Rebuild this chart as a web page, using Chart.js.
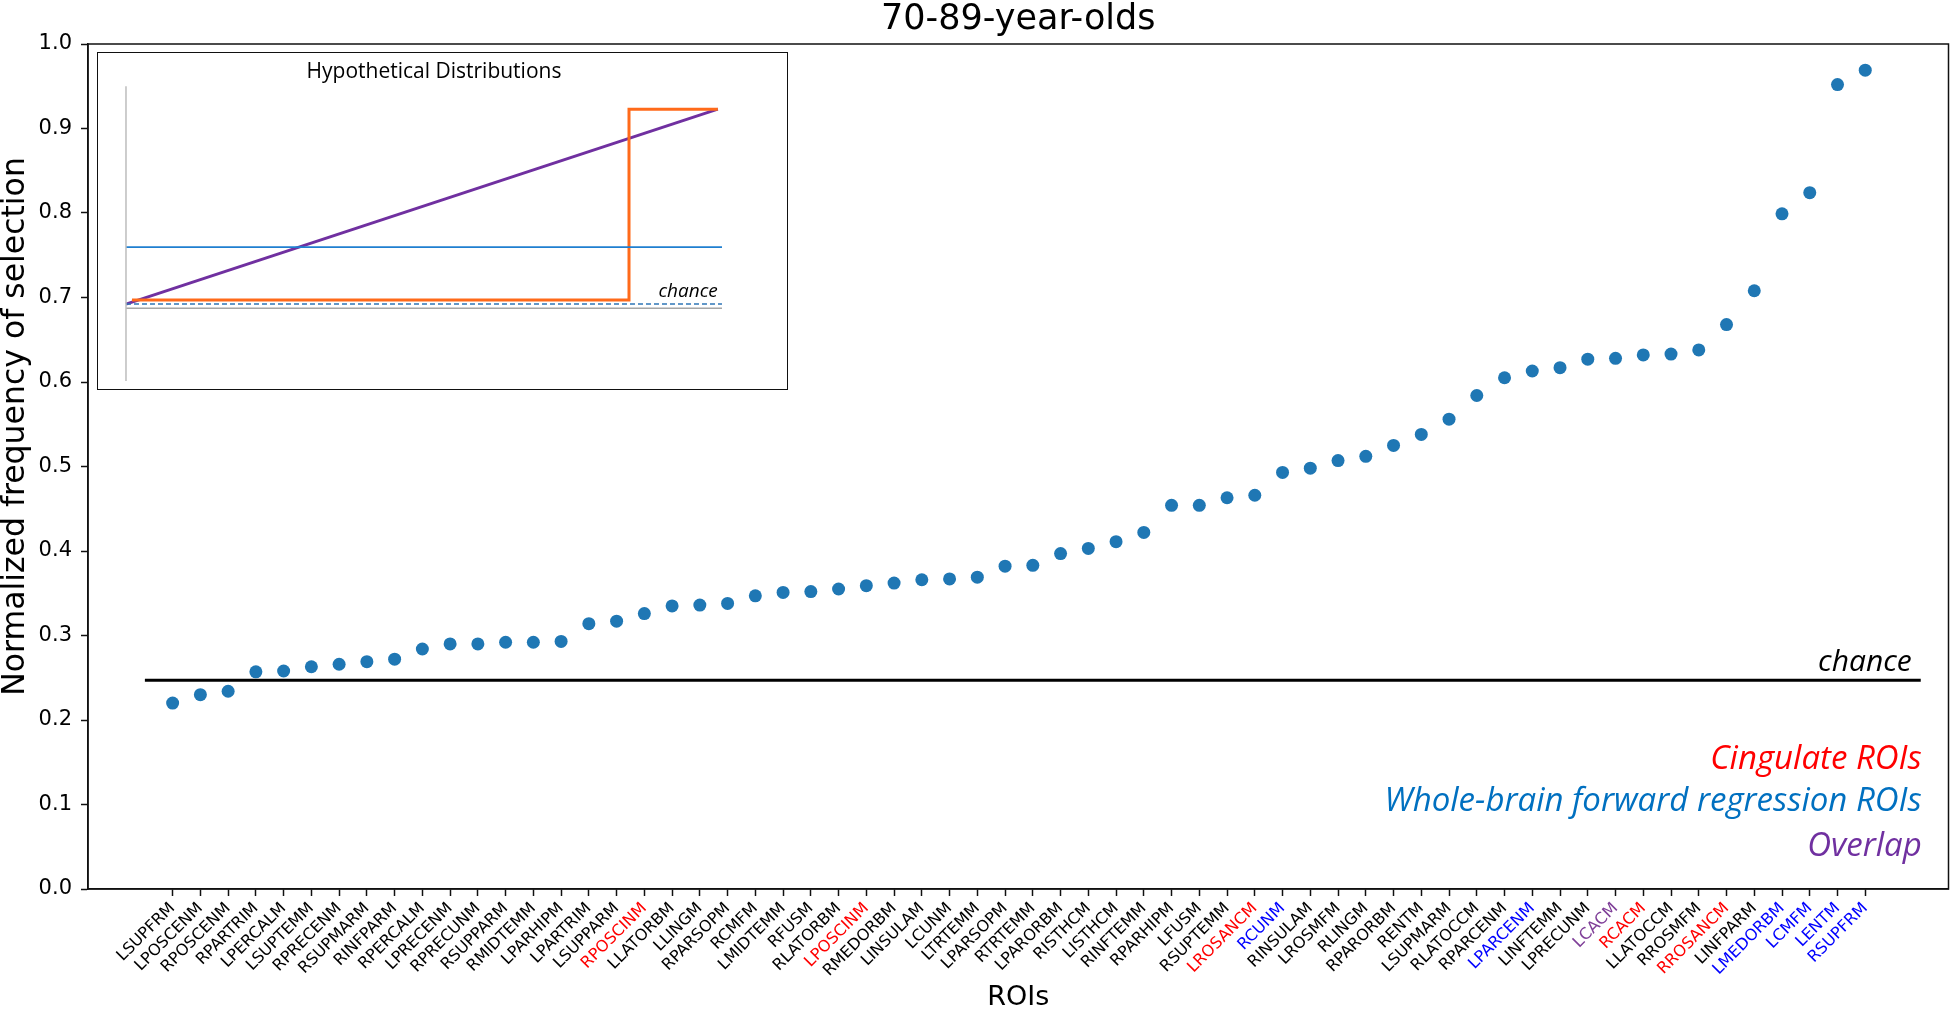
<!DOCTYPE html>
<html>
<head>
<meta charset="utf-8">
<script src="https://cdn.jsdelivr.net/npm/chart.js@4.4.1/dist/chart.umd.min.js"></script>
<style>
  html, body { margin: 0; padding: 0; background: #fff; }
  #wrap { position: relative; width: 1955px; height: 1014px; }
  #inset { position: absolute; left: 97px; top: 52px; width: 689px; height: 336px; border: 1.5px solid #111; background: #fff; }
  canvas { display: block; }
</style>
</head>
<body>
<div id="wrap">
  <canvas id="main" width="1955" height="1014"></canvas>
  <div id="inset"><canvas id="hyp" width="689" height="336"></canvas></div>
</div>
<script>
// ROI names along the x axis, in plotted order
const roiNames = [
  "LSUPFRM", "LPOSCENM", "RPOSCENM", "RPARTRIM", "LPERCALM", "LSUPTEMM", "RPRECENM", "RSUPMARM",
  "RINFPARM", "RPERCALM", "LPRECENM", "RPRECUNM", "RSUPPARM", "RMIDTEMM", "LPARHIPM", "LPARTRIM",
  "LSUPPARM", "RPOSCINM", "LLATORBM", "LLINGM", "RPARSOPM", "RCMFM", "LMIDTEMM", "RFUSM",
  "RLATORBM", "LPOSCINM", "RMEDORBM", "LINSULAM", "LCUNM", "LTRTEMM", "LPARSOPM", "RTRTEMM",
  "LPARORBM", "RISTHCM", "LISTHCM", "RINFTEMM", "RPARHIPM", "LFUSM", "RSUPTEMM", "LROSANCM",
  "RCUNM", "RINSULAM", "LROSMFM", "RLINGM", "RPARORBM", "RENTM", "LSUPMARM", "RLATOCCM",
  "RPARCENM", "LPARCENM", "LINFTEMM", "LPRECUNM", "LCACM", "RCACM", "LLATOCCM", "RROSMFM",
  "RROSANCM", "LINFPARM", "LMEDORBM", "LCMFM", "LENTM", "RSUPFRM"
];
// c = cingulate, w = whole-brain regression, o = overlap, "" = none
const roiGroups = [
  "", "", "", "", "", "", "", "",
  "", "", "", "", "", "", "", "",
  "", "c", "", "", "", "", "", "",
  "", "c", "", "", "", "", "", "",
  "", "", "", "", "", "", "", "c",
  "w", "", "", "", "", "", "", "",
  "", "w", "", "", "o", "c", "", "",
  "c", "", "w", "w", "w", "w"
];
const selectionFreq = [
  0.220, 0.230, 0.234, 0.257, 0.258, 0.263, 0.266, 0.269,
  0.272, 0.284, 0.290, 0.290, 0.292, 0.292, 0.293, 0.314,
  0.317, 0.326, 0.335, 0.336, 0.338, 0.347, 0.351, 0.352,
  0.355, 0.359, 0.362, 0.366, 0.367, 0.369, 0.382, 0.383,
  0.397, 0.403, 0.411, 0.422, 0.454, 0.454, 0.463, 0.466,
  0.493, 0.498, 0.507, 0.512, 0.525, 0.538, 0.556, 0.584,
  0.605, 0.613, 0.617, 0.627, 0.628, 0.632, 0.633, 0.638,
  0.668, 0.708, 0.799, 0.824, 0.952, 0.969
];
const chanceLevel = 0.247;
const chanceSpan = [-1, 63];

const legendLabels = ["Cingulate ROIs", "Whole-brain forward regression ROIs", "Overlap"];
const legendColors = ["#ff0000", "#0070c0", "#7030a0"];
const groupColors = { c: "#ff0000", w: "#0000ff", o: "#7f3f98", "": "#000000" };

// inset: hypothetical distributions (schematic)
const uniformX = [0, 1], uniformY = [0.454, 0.454];
const stepX = [0.01, 0.844, 0.844, 0.993], stepY = [0.275, 0.275, 0.922, 0.922];
const linearX = [0, 0.993], linearY = [0.261, 0.922];
const insetChanceX = [0, 1], insetChanceY = [0.261, 0.261];
const baseX = [0, 1], baseY = [0.247, 0.247];
const axisX = [0, 0], axisY = [0, 1];

const pts = (xs, ys) => xs.map((x, i) => ({ x, y: ys[i] }));

const framePlugin = {
  id: "frame",
  afterDraw(chart) {
    const { ctx, chartArea: a } = chart;
    ctx.save();
    ctx.strokeStyle = "#111";
    ctx.lineWidth = 1.5;
    ctx.strokeRect(a.left, a.top, a.right - a.left, a.bottom - a.top);
    ctx.restore();
  }
};

const notesPlugin = {
  id: "notes",
  afterDraw(chart) {
    const { ctx, chartArea: a, scales } = chart;
    const xEnd = scales.x.getPixelForValue(chanceSpan[1]);
    ctx.save();
    ctx.textAlign = "right";
    ctx.textBaseline = "middle";
    ctx.font = "italic 30px 'Open Sans'";
    ctx.fillStyle = "#000";
    ctx.fillText("chance", xEnd - 9, scales.y.getPixelForValue(chanceLevel) - 18);
    ctx.font = "italic 33px 'Open Sans'";
    const offs = [129, 87, 42];
    legendLabels.forEach((t, i) => {
      ctx.fillStyle = legendColors[i];
      ctx.fillText(t, xEnd + 1, a.bottom - offs[i]);
    });
    ctx.restore();
  }
};

new Chart(document.getElementById("main"), {
  type: "scatter",
  data: {
    datasets: [
      {
        label: "chance",
        data: pts(chanceSpan, [chanceLevel, chanceLevel]),
        showLine: true,
        borderColor: "#000",
        borderWidth: 3,
        pointRadius: 0
      },
      {
        label: "ROIs",
        data: selectionFreq.map((v, i) => ({ x: i, y: v })),
        backgroundColor: "#1f77b4",
        borderColor: "#1f77b4",
        pointRadius: 6.5,
        borderWidth: 0
      }
    ]
  },
  options: {
    responsive: false,
    animation: false,
    devicePixelRatio: 1,
    layout: { padding: { left: 0, right: 5, top: 0, bottom: 0 } },
    plugins: {
      legend: { display: false },
      tooltip: { enabled: false },
      title: {
        display: true,
        fullSize: false,
        text: "70-89-year-olds",
        color: "#000",
        font: { family: "DejaVu Sans", size: 35, weight: "normal", lineHeight: 1.0 },
        padding: { top: 2, bottom: 7 }
      }
    },
    scales: {
      x: {
        type: "linear",
        min: -3.05,
        max: 64,
        afterFit: s => { s.height = 125; },
        afterBuildTicks: s => { s.ticks = roiNames.map((_, i) => ({ value: i })); },
        ticks: {
          autoSkip: false,
          minRotation: 45,
          maxRotation: 45,
          padding: 3,
          font: { family: "DejaVu Sans", size: 16 },
          color: ctx => groupColors[roiGroups[ctx.index]],
          callback: v => roiNames[v]
        },
        grid: { drawOnChartArea: false, tickLength: 7, tickWidth: 1.5, tickColor: "#111" },
        border: { color: "#111", width: 1.5 },
        title: {
          display: true,
          text: "ROIs",
          color: "#000",
          font: { family: "DejaVu Sans", size: 27, lineHeight: 1.2 },
          padding: { top: 0, bottom: 0 }
        }
      },
      y: {
        min: 0,
        max: 1,
        afterFit: s => { s.width = 88; },
        ticks: {
          stepSize: 0.1,
          padding: 9,
          color: "#000",
          font: { family: "DejaVu Sans", size: 21 },
          callback: v => v.toFixed(1)
        },
        grid: { drawOnChartArea: false, tickLength: 7, tickWidth: 1.5, tickColor: "#111" },
        border: { color: "#111", width: 1.5 },
        title: {
          display: true,
          // leading spaces nudge the label up the axis as in the original figure
          text: "        Normalized frequency of selection",
          color: "#000",
          font: { family: "DejaVu Sans", size: 31.5, lineHeight: 1.0 },
          padding: { top: 0, bottom: 0 }
        }
      }
    }
  },
  plugins: [framePlugin, notesPlugin]
});

const insetNotes = {
  id: "insetNotes",
  afterDraw(chart) {
    const { ctx, scales } = chart;
    ctx.save();
    ctx.textAlign = "right";
    ctx.textBaseline = "alphabetic";
    ctx.font = "italic 19px 'Open Sans'";
    ctx.fillStyle = "#000";
    ctx.fillText("chance", scales.x.getPixelForValue(0.993), scales.y.getPixelForValue(0.285));
    ctx.restore();
  }
};

const line = (data, color, width, extra) => Object.assign({
  data, showLine: true, borderColor: color, borderWidth: width, pointRadius: 0, tension: 0, clip: false
}, extra || {});

new Chart(document.getElementById("hyp"), {
  type: "scatter",
  data: {
    datasets: [
      line(pts(axisX, axisY), "#bdbdbd", 1.5),
      line(pts(baseX, baseY), "#a6a6a6", 1.5),
      line(pts(insetChanceX, insetChanceY), "#2e75b6", 1.5, { borderDash: [5, 3] }),
      line(pts(uniformX, uniformY), "#1f7fd0", 1.8),
      line(pts(stepX, stepY), "#ff6a1a", 3),
      line(pts(linearX, linearY), "#7030a0", 3)
    ]
  },
  options: {
    responsive: false,
    animation: false,
    devicePixelRatio: 1,
    layout: { padding: { left: 38, right: 55, top: 0, bottom: 8 } },
    plugins: {
      legend: { display: false },
      tooltip: { enabled: false },
      title: {
        display: true,
        text: "Hypothetical Distributions",
        color: "#000",
        font: { family: "Open Sans", size: 21, weight: "normal", lineHeight: 1.2 },
        padding: { top: 6, bottom: 2 }
      }
    },
    scales: {
      x: { type: "linear", min: 0.0168, max: 1.0168, display: false },
      y: { min: 0, max: 1, display: false }
    }
  },
  plugins: [insetNotes]
});
</script>
</body>
</html>
